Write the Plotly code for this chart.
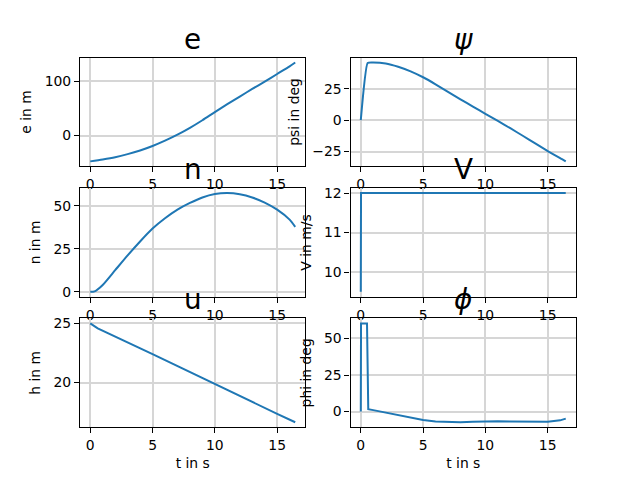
import plotly.graph_objects as go

# ---- data ----
t_e = [0, 1, 2, 3, 4, 5, 6, 7, 8, 9, 10, 11, 12, 13, 14, 15, 16, 16.45]
e_vals = [-47.5, -44.0, -39.8, -34.2, -27.5, -19.3, -9.5, 1.5, 14.0, 28.0, 43.0, 57.5, 71.5, 85.5, 99.0, 113.0, 127.0, 134.0]

t_psi = [0, 0.55, 1, 2, 3, 4, 5, 6, 7, 8, 9, 10, 11, 12, 13, 14, 15, 16, 16.45]
psi_vals = [0, 45.6, 45.9, 45.2, 42.6, 38.9, 34.2, 28.6, 22.6, 16.6, 10.8, 5.1, -0.6, -6.4, -12.4, -18.5, -24.6, -30.2, -32.8]

t_n = [0, 0.35, 1, 2, 3, 4, 5, 6, 7, 8, 9, 10, 11, 12, 13, 14, 15, 16, 16.45]
n_vals = [0, 0.3, 4.0, 12.6, 21.2, 29.3, 36.8, 42.8, 47.8, 51.7, 54.9, 56.9, 57.5, 56.8, 54.9, 51.9, 47.8, 42.0, 37.8]

t_V = [0, 0.02, 16.45]
V_vals = [9.5, 12.0, 12.0]

t_h = [0, 0.2, 0.4, 0.6, 5, 10, 15, 16.45]
h_vals = [25.0, 24.85, 24.7, 24.58, 22.4, 19.85, 17.35, 16.64]

t_phi = [0, 0.02, 0.5, 0.6, 1, 2, 3, 4, 5, 6, 7, 8, 9, 10, 11, 12, 13, 14, 15, 16, 16.45]
phi_vals = [0, 60.3, 60.3, 1.6, 1.0, -0.8, -2.5, -4.2, -5.7, -6.8, -7.3, -7.3, -7.0, -6.7, -6.6, -6.8, -7.0, -7.1, -7.0, -6.0, -4.8]

titles = ["e", "<i>ψ</i>", "n", "V", "u", "<i>ϕ</i>"]
ylabels = ["e in m", "psi in deg", "n in m", "V in m/s", "h in m", "phi in deg"]
xlabel = "t in s"
ydticks = [100, 25, 25, 1, 5, 25]
smoothing = [0.7, 0.4, 0.6, 0, 0, 0]

series = [(t_e, e_vals), (t_psi, psi_vals), (t_n, n_vals),
          (t_V, V_vals), (t_h, h_vals), (t_phi, phi_vals)]

# ---- layout geometry (matplotlib default subplot params) ----
xdoms = [[0.125, 0.4773], [0.5477, 0.9]]
ydoms = [[0.6535, 0.88], [0.3817, 0.6082], [0.11, 0.3365]]

FONT = "DejaVu Sans"
BLUE = "#1f77b4"

def padded(vals):
    lo, hi = min(vals), max(vals)
    m = (hi - lo) * 0.05
    return [lo - m, hi + m]

fig = go.Figure()
layout = dict(
    width=640, height=480,
    margin=dict(l=0, r=0, t=0, b=0, autoexpand=False),
    paper_bgcolor="white", plot_bgcolor="white",
    showlegend=False,
    font=dict(family=FONT, size=14, color="black"),
    annotations=[],
)

for i, (tx, vy) in enumerate(series):
    row, col = divmod(i, 2)
    k = i + 1
    xa = "x" if k == 1 else f"x{k}"
    ya = "y" if k == 1 else f"y{k}"
    line = dict(color=BLUE, width=2)
    if smoothing[i] > 0:
        line.update(shape="spline", smoothing=smoothing[i])
    fig.add_trace(go.Scatter(x=tx, y=vy, mode="lines", line=line,
                             xaxis=xa, yaxis=ya, hoverinfo="skip"))
    axis_common = dict(
        showline=True, linecolor="black", linewidth=1.1, mirror=True,
        showgrid=True, gridcolor="#d6d6d6", gridwidth=1.6,
        zeroline=False, ticks="outside", ticklen=5, tickwidth=1.1,
        tickcolor="black", tickfont=dict(family=FONT, size=13.9, color="black"),
        automargin=False,
    )
    xkey = "xaxis" if k == 1 else f"xaxis{k}"
    ykey = "yaxis" if k == 1 else f"yaxis{k}"
    xaxis = dict(axis_common, domain=xdoms[col], anchor=ya,
                 range=padded(tx), dtick=5, tick0=0)
    if row == 2:
        xaxis["title"] = dict(text=xlabel, font=dict(family=FONT, size=13.9), standoff=6)
    yaxis = dict(axis_common, domain=ydoms[row], anchor=xa,
                 range=padded(vy), dtick=ydticks[i], tick0=0,
                 title=dict(text=ylabels[i], font=dict(family=FONT, size=13.9), standoff=9))
    layout[xkey] = xaxis
    layout[ykey] = yaxis
    layout["annotations"].append(dict(
        text=titles[i], x=sum(xdoms[col]) / 2, y=ydoms[row][1],
        xref="paper", yref="paper", xanchor="center", yanchor="bottom",
        showarrow=False, yshift=0,
        font=dict(family=FONT, size=27.8, color="black")))

fig.update_layout(**layout)
fig.write_html("out.html", config={"displayModeBar": False},
               post_script="document.body.style.margin='0';document.body.style.padding='0';")
